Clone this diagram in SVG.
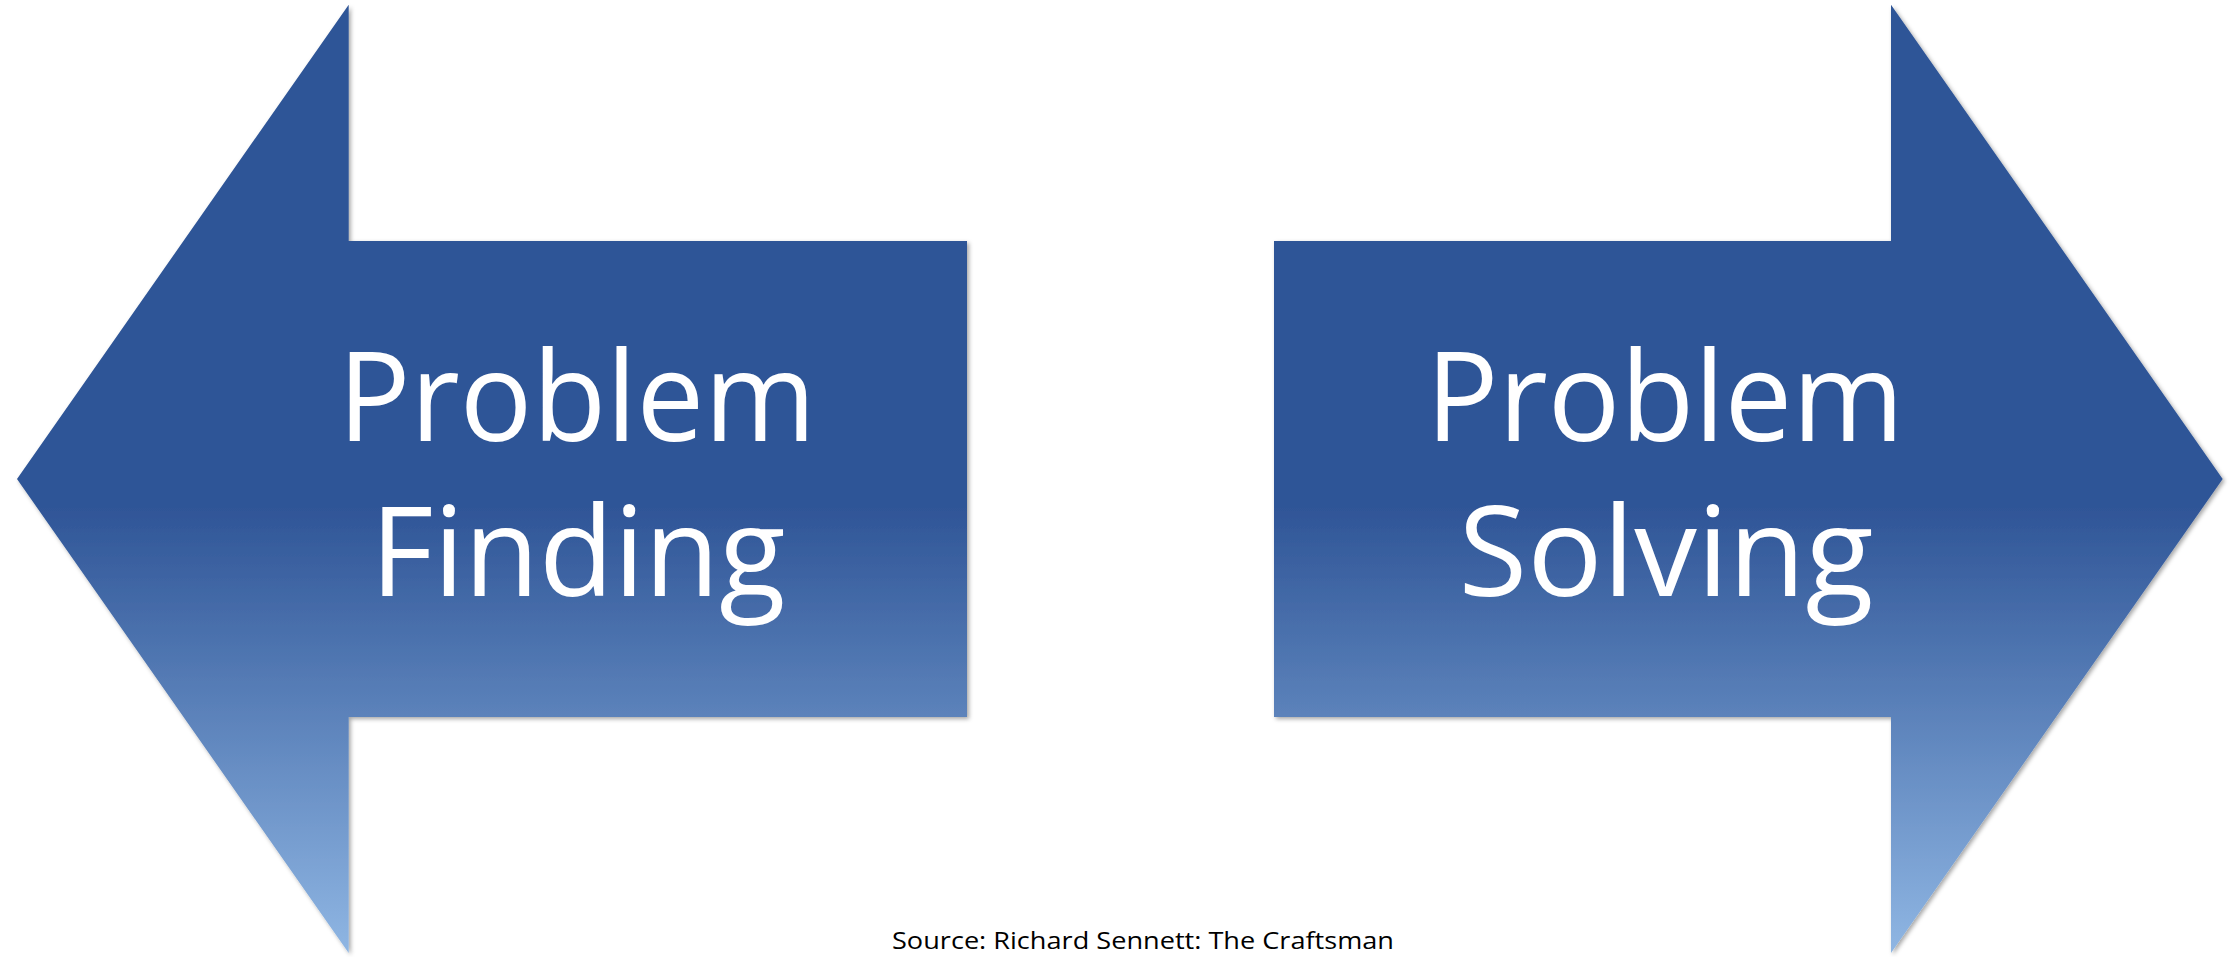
<svg xmlns="http://www.w3.org/2000/svg" width="2239" height="957" viewBox="0 0 2239 957">
<style>
.arrow{fill:url(#g);filter:url(#sh)}
.big{font-family:"Open Sans","Noto Sans",sans-serif;font-size:124px;fill:#ffffff;text-anchor:middle}
.src{font-family:"Open Sans","Noto Sans",sans-serif;font-size:23px;fill:#000000;text-anchor:middle}
</style>
<defs>
<linearGradient id="g" gradientUnits="userSpaceOnUse" x1="0" y1="4.7" x2="0" y2="953">
<stop offset="0" stop-color="#2F5597"/>
<stop offset="0.53" stop-color="#2F5597"/>
<stop offset="1" stop-color="#8FB6E3"/>
</linearGradient>
<filter id="sh" x="-5%" y="-5%" width="110%" height="110%">
<feDropShadow dx="2" dy="2" stdDeviation="2" flood-color="#000" flood-opacity="0.35"/>
</filter>
</defs>
<g id="problem-finding">
<polygon class="arrow" points="17,479 348.7,4.7 348.7,241 967,241 967,717 348.7,717 348.7,953"/>
<text class="big" x="577" y="441" textLength="478" lengthAdjust="spacingAndGlyphs">Problem</text>
<text class="big" x="578" y="596" textLength="415" lengthAdjust="spacingAndGlyphs">Finding</text>
</g>
<g id="problem-solving">
<polygon class="arrow" points="2222.7,479 1891,4.7 1891,241 1274,241 1274,717 1891,717 1891,953"/>
<text class="big" x="1665" y="441" textLength="478" lengthAdjust="spacingAndGlyphs">Problem</text>
<text class="big" x="1666" y="596" textLength="415" lengthAdjust="spacingAndGlyphs">Solving</text>
</g>
<g id="connectors"></g>
<g id="source">
<text class="src" x="1143" y="949" textLength="502" lengthAdjust="spacingAndGlyphs">Source: Richard Sennett: The Craftsman</text>
</g>
</svg>
